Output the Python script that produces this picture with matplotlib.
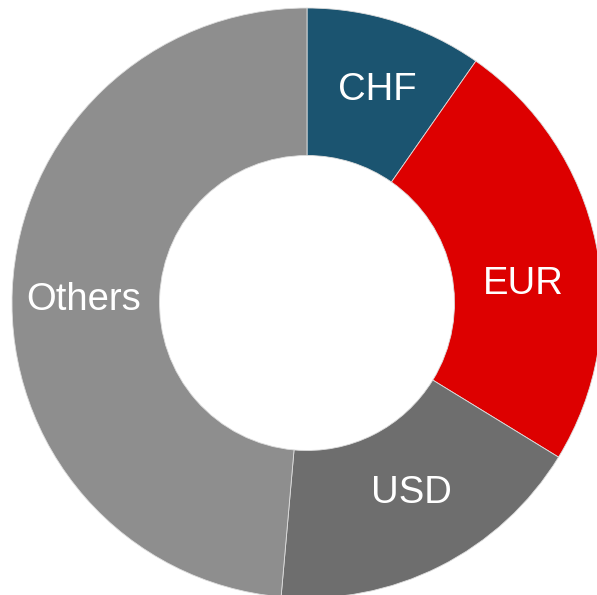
import matplotlib
matplotlib.use("Agg")
import matplotlib.pyplot as plt
from matplotlib.transforms import offset_copy

categories = ["CHF", "EUR", "USD", "Others"]
shares = [9.7, 24.05, 17.65, 48.6]
colors = ["#1B5470", "#DD0000", "#6E6E6E", "#8E8E8E"]
# small label nudges (pixels), purely cosmetic
label_nudge = [(4, 2), (0, -26), (5, 8), (-2, -7)]

fig = plt.figure(figsize=(5.97, 5.95), dpi=100)
ax = fig.add_axes([0, 0, 1, 1])
wedges, texts = ax.pie(
    shares,
    labels=categories,
    colors=colors,
    startangle=90,
    counterclock=False,
    radius=1.0,
    labeldistance=0.75,
    wedgeprops=dict(width=0.5, edgecolor="#dddddd", linewidth=0.6),
    textprops=dict(color="white", fontsize=27.5, family="Liberation Sans",
                   ha="center", va="center"),
)
for t, (dx, dy) in zip(texts, label_nudge):
    t.set_transform(offset_copy(ax.transData, fig=fig, x=dx, y=dy, units="dots"))
ax.set_aspect("equal")
ax.set_xlim(-307 / 295, 290 / 295)
ax.set_ylim(-292 / 295, 303 / 295)
ax.axis("off")
fig.savefig("out.png", dpi=100)
